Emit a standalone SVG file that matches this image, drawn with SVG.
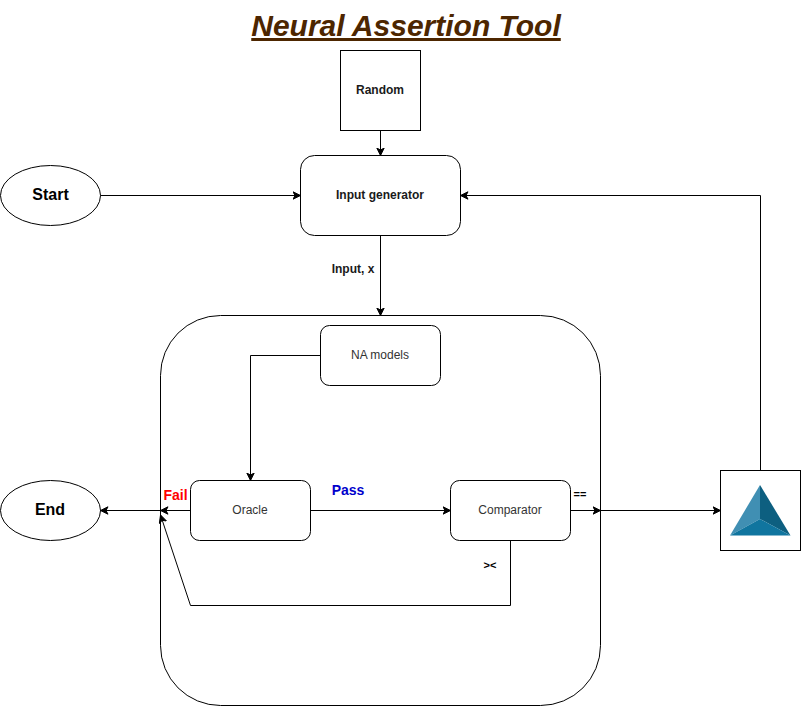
<svg xmlns="http://www.w3.org/2000/svg" width="801" height="706" viewBox="0 0 801 706">
<style>
text{font-family:"Liberation Sans",Arial,sans-serif;text-anchor:middle}
.s{fill:#fff;stroke:#000;stroke-width:1}
.c{fill:none;stroke:#000;stroke-width:1}
.b{font-size:12px;font-weight:bold;fill:#1a1a1a}
.n{font-size:12px;fill:#333}
.l{font-size:16px;font-weight:bold;fill:#000}
</style>
<defs>
<marker id="a" markerUnits="userSpaceOnUse" markerWidth="10" markerHeight="10" refX="8" refY="4.500" orient="auto"><path d="M0.5 0.8L8 4.500L0.5 8.200L2.500 4.500Z" fill="#000" stroke="#000" stroke-width="1"/></marker>
</defs>
<rect width="801" height="706" fill="#fff"/>
<g id="title"><text x="406" y="36" style="font-size:30px;font-weight:bold;font-style:italic;text-decoration:underline;fill:#4d2600">Neural Assertion Tool</text></g>
<g id="container"><rect class="s" x="160.500" y="315.500" width="440" height="390" rx="60" ry="60"/></g>
<g id="random"><rect class="s" x="340.500" y="50.500" width="80" height="80"/><text class="b" x="380" y="94">Random</text></g>
<g id="input-generator"><rect class="s" x="300.500" y="155.500" width="160" height="80" rx="14" ry="14"/><text class="b" x="380" y="199">Input generator</text></g>
<g id="start"><ellipse class="s" cx="50.500" cy="195.500" rx="50" ry="30"/><text class="l" x="50.500" y="200">Start</text></g>
<g id="end"><ellipse class="s" cx="50.500" cy="510.500" rx="50" ry="30"/><text class="l" x="50" y="514.500">End</text></g>
<g id="na-models"><rect class="s" x="320.500" y="325.500" width="120" height="60" rx="9" ry="9"/><text class="n" x="380" y="359">NA models</text></g>
<g id="oracle"><rect class="s" x="190.500" y="480.500" width="120" height="60" rx="9" ry="9"/><text class="n" x="250" y="514">Oracle</text></g>
<g id="comparator"><rect class="s" x="450.500" y="480.500" width="120" height="60" rx="9" ry="9"/><text class="n" x="510" y="514">Comparator</text></g>
<g id="logo">
<rect class="s" x="720.500" y="470.500" width="80" height="80"/>
<path d="M760 485L730 535.500L760 519Z" fill="#408fb3"/>
<path d="M760 485L790.500 535.500L760 519Z" fill="#0d5f80"/>
<path d="M730 535.500L760 519L790.500 535.500Z" fill="#10759f"/>
</g>
<g id="connectors">
<path class="c" marker-end="url(#a)" d="M380.500 130.500V155.500"/>
<path class="c" marker-end="url(#a)" d="M100.500 195.500H300.500"/>
<path class="c" marker-end="url(#a)" d="M380.500 235.500V315.500"/>
<path class="c" marker-end="url(#a)" d="M320.500 355.500H250.500V480.500"/>
<path class="c" marker-end="url(#a)" d="M190.500 510.500H160.500"/>
<path class="c" marker-end="url(#a)" d="M160.500 510.500H100.500"/>
<path class="c" marker-end="url(#a)" d="M310.500 510.500H450.500"/>
<path class="c" marker-end="url(#a)" d="M570.500 510.500H600.500"/>
<path class="c" marker-end="url(#a)" d="M600.500 510.500H720.500"/>
<path class="c" marker-end="url(#a)" d="M510.500 540.500V605.500H190.500L160.500 515"/>
<path class="c" marker-end="url(#a)" d="M760.500 470.500V195.500H460.500"/>
</g>
<g id="labels">
<text class="b" x="353" y="273">Input, x</text>
<text x="175.500" y="500" style="font-size:14px;font-weight:bold;fill:#f00">Fail</text>
<text x="348" y="495" style="font-size:14px;font-weight:bold;fill:#0000cc">Pass</text>
<text x="580" y="498" style="font-size:11px;font-weight:bold;fill:#000">==</text>
<text x="490" y="569" style="font-size:11px;font-weight:bold;fill:#000">&gt;&lt;</text>
</g>
</svg>
